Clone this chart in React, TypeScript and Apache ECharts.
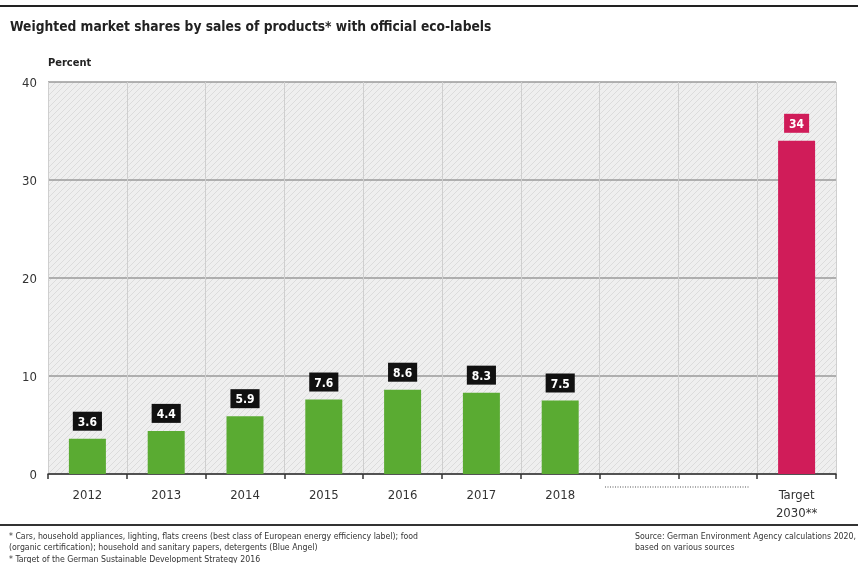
import React, { useEffect, useRef } from "react";
import * as echarts from "echarts";

const categories = ["2012", "2013", "2014", "2015", "2016", "2017", "2018", "", "", "Target\n2030**"];
const values: (number | null)[] = [3.6, 4.4, 5.9, 7.6, 8.6, 8.3, 7.5, null, null, 34];
const targetIndex = 9;
const yTicks = { min: 0, max: 40, interval: 10 };

const GREEN = "#5aab32";
const PINK = "#d01c59";
const FONT = "'DejaVu Sans Condensed', 'Liberation Sans Narrow', sans-serif";

function hatchPattern(): string {
  const c = document.createElement("canvas");
  c.width = 6;
  c.height = 6;
  const ctx = c.getContext("2d")!;
  ctx.fillStyle = "#efefef";
  ctx.fillRect(0, 0, 6, 6);
  ctx.strokeStyle = "#dcdcdc";
  ctx.lineWidth = 1;
  ctx.beginPath();
  ctx.moveTo(0, 6);
  ctx.lineTo(6, 0);
  ctx.moveTo(-1, 1);
  ctx.lineTo(1, -1);
  ctx.moveTo(5, 7);
  ctx.lineTo(7, 5);
  ctx.stroke();
  return c.toDataURL();
}

export default function App() {
  const ref = useRef<HTMLDivElement>(null);
  useEffect(() => {
    if (!ref.current) return;
    const chart = echarts.init(ref.current, null, { renderer: "svg" });
    const data = values.map((v, i) => {
      const isT = i === targetIndex;
      return {
        value: v,
        itemStyle: { color: isT ? PINK : GREEN },
        label: { backgroundColor: isT ? PINK : "#111" },
      };
    });
    chart.setOption({
      animation: false,
      textStyle: { fontFamily: FONT },
      grid: {
        left: 48,
        right: 22,
        top: 82,
        bottom: 89,
        show: true,
        borderWidth: 0,
        backgroundColor: { image: hatchPattern(), repeat: "repeat" },
      },
      title: [
        {
          text: "Weighted market shares by sales of products* with official eco-labels",
          left: 5,
          top: 14,
          textStyle: { fontFamily: FONT, fontSize: 13.7, fontWeight: "bold", color: "#222" },
        },
        {
          text: "Percent",
          left: 43,
          top: 52,
          textStyle: { fontFamily: FONT, fontSize: 11, fontWeight: "bold", color: "#222" },
        },
      ],
      xAxis: {
        type: "category",
        data: categories,
        axisLine: { lineStyle: { color: "#333", width: 1.5 } },
        axisTick: { show: true, length: 5, lineStyle: { color: "#333", width: 1.5 } },
        axisLabel: { color: "#333", fontSize: 13, margin: 11, lineHeight: 18, interval: 0 },
        splitLine: { show: true, lineStyle: { color: "#cfcfcf", width: 1 } },
      },
      yAxis: {
        type: "value",
        min: yTicks.min,
        max: yTicks.max,
        interval: yTicks.interval,
        axisLine: { show: false },
        axisTick: { show: false },
        axisLabel: { color: "#333", fontSize: 13, margin: 11 },
        splitLine: { lineStyle: { color: "#9a9a9a", width: 1.5 } },
      },
      series: [
        {
          type: "bar",
          data,
          barWidth: 37,
          label: {
            show: true,
            position: "top",
            distance: 8,
            color: "#fff",
            fontWeight: "bold",
            fontSize: 12,
            fontFamily: FONT,
            padding: [4, 5, 3, 5],
          },
        },
      ],
      graphic: [
        { type: "rect", left: 0, top: 5, shape: { width: 858, height: 2 }, style: { fill: "#222" } },
        { type: "rect", left: 0, top: 524, shape: { width: 858, height: 2 }, style: { fill: "#333" } },
        {
          type: "line",
          shape: { x1: 605, y1: 487, x2: 750, y2: 487 },
          style: { stroke: "#555", lineWidth: 1.2, lineDash: [1, 1.5] },
        },
        {
          type: "text",
          left: 9,
          top: 530,
          style: {
            text:
              "* Cars, household appliances, lighting, flats creens (best class of European energy efficiency label); food\n(organic certification); household and sanitary papers, detergents (Blue Angel)\n* Target of the German Sustainable Development Strategy 2016",
            fontFamily: FONT,
            fontSize: 8.7,
            lineHeight: 11.5,
            fill: "#333",
          },
        },
        {
          type: "text",
          right: 2,
          top: 530,
          style: {
            text: "Source: German Environment Agency calculations 2020,\nbased on various sources",
            fontFamily: FONT,
            fontSize: 8.7,
            lineHeight: 11.5,
            fill: "#333",
            align: "right",
          },
        },
      ],
    });
    return () => chart.dispose();
  }, []);
  return <div ref={ref} style={{ position: "fixed", left: 0, top: 0, width: 858, height: 563 }} />;
}
